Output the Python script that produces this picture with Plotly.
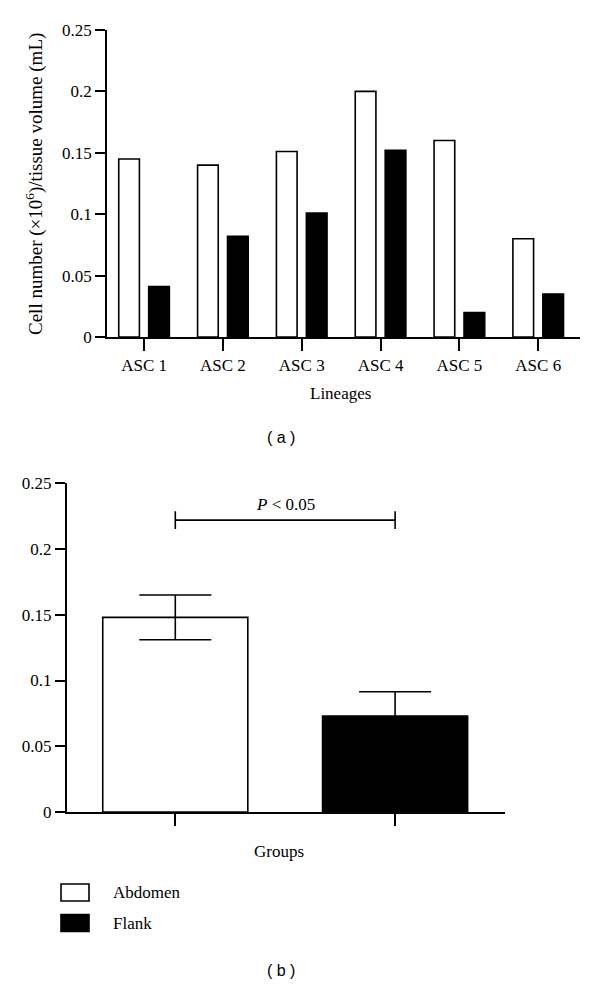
import plotly.graph_objects as go

# ---- data ----
lineages = ["ASC 1", "ASC 2", "ASC 3", "ASC 4", "ASC 5", "ASC 6"]
abdomen_vals = [0.145, 0.140, 0.151, 0.200, 0.160, 0.080]
flank_vals = [0.041, 0.082, 0.101, 0.152, 0.020, 0.035]

groups = ["Abdomen", "Flank"]
group_means = [0.148, 0.073]
group_errs = [0.017, 0.0185]
sig_level = 0.222
sig_text = "<i>P</i> &lt; 0.05"

y_ticks = [0, 0.05, 0.1, 0.15, 0.2, 0.25]
y_ticktext = ["0", "0.05", "0.1", "0.15", "0.2", "0.25"]

W, H = 600, 986
SERIF = "Liberation Serif"
SANS = "Liberation Sans"
FS = 17


def px_x(p):
    return p / W


def px_y(p):
    return 1 - p / H


fig = go.Figure()

# top panel: grouped bars
fig.add_trace(go.Bar(
    x=list(range(len(lineages))), y=abdomen_vals, name="Abdomen",
    marker=dict(color="white", line=dict(color="black", width=1.6)),
    xaxis="x", yaxis="y", showlegend=False,
))
fig.add_trace(go.Bar(
    x=list(range(len(lineages))), y=flank_vals, name="Flank",
    marker=dict(color="black", line=dict(color="black", width=1.6)),
    xaxis="x", yaxis="y", showlegend=False,
))

# bottom panel: mean bars with error bars
colors = ["white", "black"]
for i, g in enumerate(groups):
    fig.add_trace(go.Bar(
        x=[i], y=[group_means[i]], name=g, width=0.66,
        marker=dict(color=colors[i], line=dict(color="black", width=1.6)),
        error_y=dict(type="data", array=[group_errs[i]], visible=True,
                     color="black", thickness=1.6, width=36),
        xaxis="x2", yaxis="y2", showlegend=False,
    ))

axis_common = dict(showline=True, linecolor="black", linewidth=1.6,
                   showgrid=False, zeroline=False, ticks="outside",
                   tickcolor="black", tickwidth=1.6, automargin=False,
                   tickfont=dict(family=SERIF, size=FS, color="black"))

fig.update_layout(
    template="none",
    width=W, height=H,
    margin=dict(l=0, r=0, t=0, b=0, pad=0),
    paper_bgcolor="white", plot_bgcolor="white",
    font=dict(family=SERIF, size=FS, color="black"),
    barmode="group", bargap=0.24, bargroupgap=0.31,
    showlegend=False,
    xaxis=dict(domain=[px_x(107), px_x(580)], range=[-0.47, 5.53],
               tickvals=list(range(len(lineages))), ticktext=lineages,
               ticklen=12, anchor="y", **axis_common),
    yaxis=dict(domain=[px_y(337), px_y(30)], range=[0, 0.25],
               tickvals=y_ticks, ticktext=y_ticktext, ticklen=10,
               anchor="x", **axis_common),
    xaxis2=dict(domain=[px_x(66.7), px_x(505)], range=[-0.494, 1.5],
                tickvals=[0, 1], showticklabels=False, ticklen=12,
                anchor="y2", **axis_common),
    yaxis2=dict(domain=[px_y(812), px_y(483.3)], range=[0, 0.25],
                tickvals=y_ticks, ticktext=y_ticktext, ticklen=10,
                anchor="x2", **axis_common),
)

# significance bracket
cap = 0.0068
fig.add_shape(type="line", xref="x2", yref="y2", x0=0, x1=1,
              y0=sig_level, y1=sig_level, line=dict(color="black", width=1.6))
for xi in (0, 1):
    fig.add_shape(type="line", xref="x2", yref="y2", x0=xi, x1=xi,
                  y0=sig_level - cap, y1=sig_level + cap,
                  line=dict(color="black", width=1.6))
fig.add_annotation(xref="x2", yref="y2", x=0.5, y=sig_level, yshift=4,
                   xanchor="center", yanchor="bottom",
                   text=sig_text, showarrow=False,
                   font=dict(family=SERIF, size=FS, color="black"))

# axis titles and captions
ann_font = dict(family=SERIF, size=FS, color="black")


def label(x, y, text, font=ann_font, **kw):
    opts = dict(xanchor="center", yanchor="middle")
    opts.update(kw)
    fig.add_annotation(xref="paper", yref="paper", x=px_x(x), y=px_y(y),
                       text=text, showarrow=False, font=font, **opts)


label(35, 184, "Cell number (×10<sup>6</sup>)/tissue volume (mL)",
      font=dict(family=SERIF, size=19, color="black"), textangle=-90)
label(340, 393, "Lineages")
label(279, 851, "Groups")
label(281, 437, "( a )", font=dict(family=SANS, size=16, color="black"))
label(281, 970, "( b )", font=dict(family=SANS, size=16, color="black"))

# legend (drawn)
legend_rows = [(892.5, "white", groups[0]), (923, "black", groups[1])]
for yc, col, name in legend_rows:
    fig.add_shape(type="rect", xref="paper", yref="paper",
                  x0=px_x(61), x1=px_x(89), y0=px_y(yc - 8.5), y1=px_y(yc + 8.5),
                  fillcolor=col, line=dict(color="black", width=1.6))
    label(111, yc, name, xanchor="left")

fig.write_html("out.html", config={"displayModeBar": False},
               post_script="document.body.style.margin='0';")
